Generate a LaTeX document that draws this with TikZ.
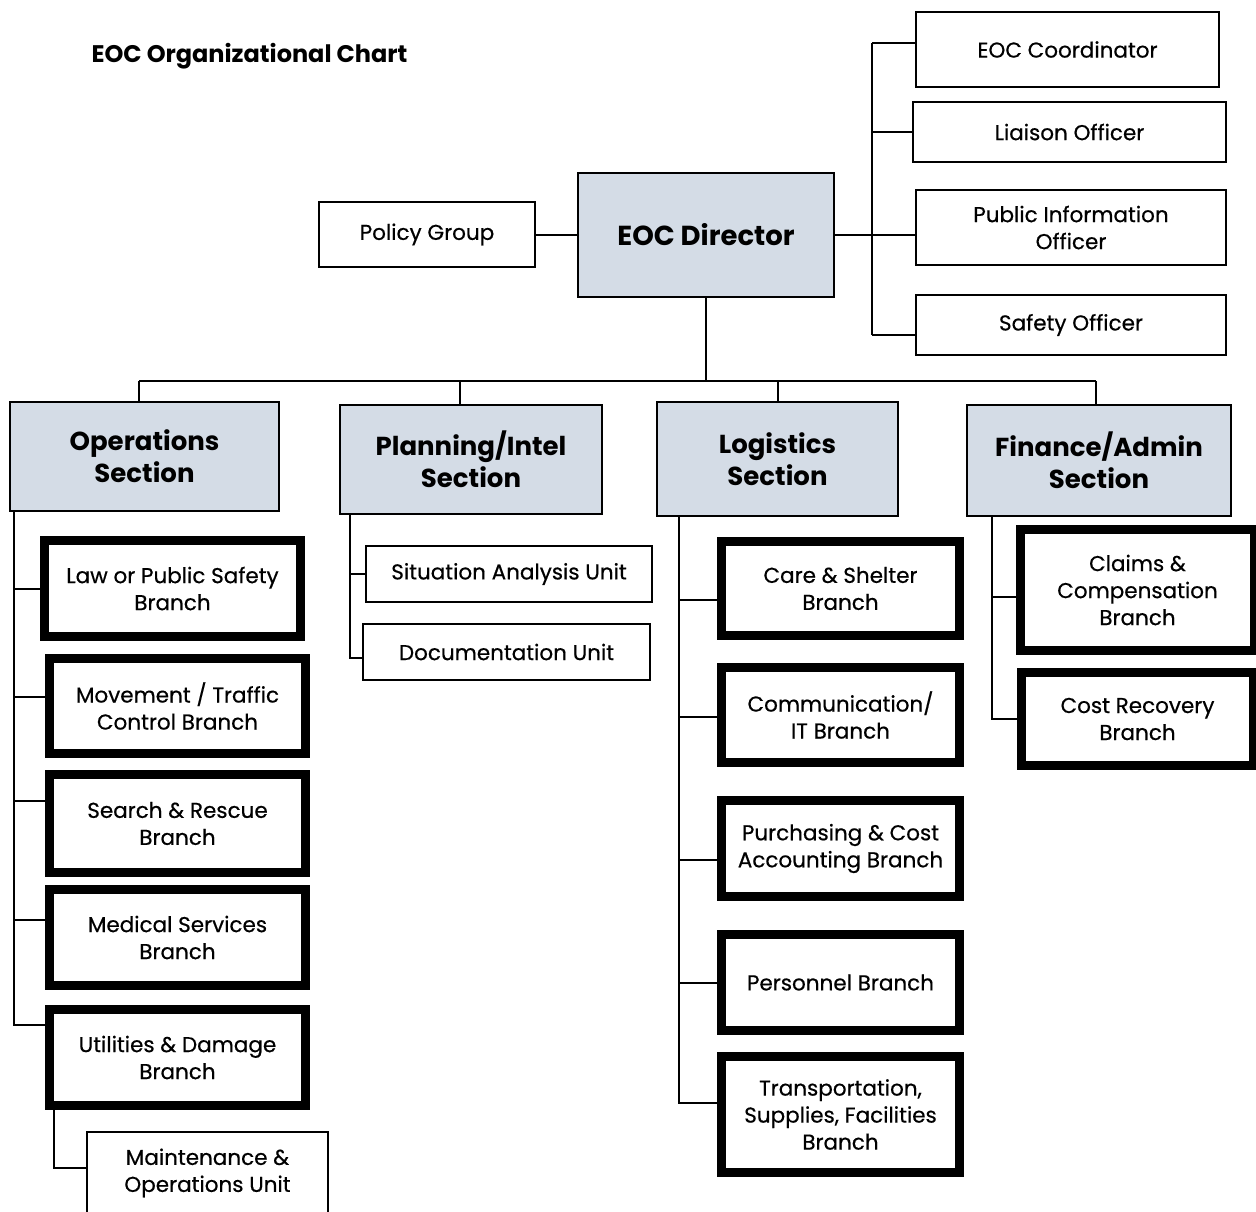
\documentclass[tikz,border=0pt]{standalone}
\usepackage{fontspec}
\setmainfont{Poppins}
\newfontfamily\chartfont{Poppins}[FakeBold=0.5]
\usetikzlibrary{positioning}
\definecolor{secfill}{RGB}{212,220,230}

\begin{document}
\begin{tikzpicture}[x=1pt,y=-1pt]
		\tikzstyle{unitbox} = [rectangle, draw=black, line width=2pt, fill=white,
		text centered, align=center, inner sep=0pt, font=\chartfont\fontsize{21.5}{27}\selectfont]
		\tikzstyle{branchbox} = [unitbox, line width=9pt]
		\tikzstyle{sectionbox} = [unitbox, fill=secfill, font=\bfseries\fontsize{26}{32}\selectfont]
		\tikzstyle{link} = [line width=2pt]
		\useasboundingbox (0,0) rectangle (1256,1211);
		\node (title) [anchor=west, font=\bfseries\fontsize{24}{28}\selectfont] at (88,56) {EOC Organizational Chart};
		% top level
		\node (director) [sectionbox, minimum width=256, minimum height=124, font=\bfseries\fontsize{27.5}{32}\selectfont] at (706,235) {EOC Director};
		\node (policy) [unitbox, minimum width=216, minimum height=65] at (427,234.5) {Policy Group};
		\node (coordinator) [unitbox, minimum width=303, minimum height=75] at (1067.5,49.5) {EOC Coordinator};
		\node (liaison) [unitbox, minimum width=313, minimum height=60] at (1069.5,132) {Liaison Officer};
		\node (pio) [unitbox, minimum width=310, minimum height=75] at (1071,227.5) {Public Information\\Officer};
		\node (safety) [unitbox, minimum width=310, minimum height=60] at (1071,325) {Safety Officer};
		% sections
		\node (ops) [sectionbox, minimum width=269, minimum height=109] at (144.5,456.5) {Operations\\Section};
		\node (plan) [sectionbox, minimum width=262, minimum height=109] at (471,459.5) {Planning/Intel\\Section};
		\node (logi) [sectionbox, minimum width=241, minimum height=114] at (777.5,459) {Logistics\\Section};
		\node (fin) [sectionbox, minimum width=264, minimum height=111] at (1099,460.5) {Finance/Admin\\Section};
		% operations branches
		\node (lawBranch) [branchbox, minimum width=256, minimum height=96] at (172.5,588.5) {Law or Public Safety\\Branch};
		\node (trafficBranch) [branchbox, minimum width=256, minimum height=95] at (177.5,706) {Movement / Traffic\\Control Branch};
		\node (rescueBranch) [branchbox, minimum width=256, minimum height=98] at (177.5,823.5) {Search \& Rescue\\Branch};
		\node (medicalBranch) [branchbox, minimum width=256, minimum height=96] at (177.5,937.5) {Medical Services\\Branch};
		\node (utilBranch) [branchbox, minimum width=256, minimum height=96] at (177.5,1057.5) {Utilities \& Damage\\Branch};
		\node (maintUnit) [unitbox, minimum width=241, minimum height=82] at (207.5,1173) {Maintenance \&\\Operations Unit};
		% planning units
		\node (situUnit) [unitbox, minimum width=286, minimum height=56] at (509,574) {Situation Analysis Unit};
		\node (docUnit) [unitbox, minimum width=287, minimum height=56] at (506.5,652) {Documentation Unit};
		% logistics branches
		\node (shelterBranch) [branchbox, minimum width=238, minimum height=94] at (840.5,588.5) {Care \& Shelter\\Branch};
		\node (commBranch) [branchbox, minimum width=238, minimum height=95] at (840.5,715) {Communication/\\IT Branch};
		\node (purchBranch) [branchbox, minimum width=238, minimum height=96] at (840.5,848.5) {Purchasing \& Cost\\Accounting Branch};
		\node (persBranch) [branchbox, minimum width=238, minimum height=96] at (840.5,982.5) {Personnel Branch};
		\node (transBranch) [branchbox, minimum width=238, minimum height=116] at (840.5,1114.5) {Transportation,\\Supplies, Facilities\\Branch};
		% finance branches
		\node (claimsBranch) [branchbox, minimum width=234, minimum height=121] at (1137.5,590) {Claims \&\\Compensation\\Branch};
		\node (costBranch) [branchbox, minimum width=232, minimum height=93] at (1137.5,719) {Cost Recovery\\Branch};
		% staff links
		\coordinate (staffTop) at (872,43);
		\coordinate (staffBot) at (872,335);
		\draw [link] (policy.east) -- (policy.east -| director.west);
		\draw [link] (staffTop) -- (staffBot);
		\draw [link] (staffTop) -- (staffTop -| coordinator.west);
		\draw [link] (liaison.west -| staffTop) -- (liaison.west);
		\draw [link] (director.east) -- (director.east -| pio.west);
		\draw [link] (staffBot) -- (staffBot -| safety.west);
		% section bus
		\coordinate (busL) at (139,381);
		\coordinate (busR) at (1096,381);
		\draw [link] (director.south) -- (director.south |- busL);
		\draw [link] (busL) -- (busR);
		\draw [link] (busL) -- (busL |- ops.north);
		\draw [link] ([xshift=-11pt]plan.north) -- ([xshift=-11pt]plan.north |- busL);
		\draw [link] (logi.north) -- (logi.north |- busL);
		\draw [link] (busR) -- (busR |- fin.north);
		% operations
		\coordinate (opsSpine) at ([xshift=5pt]ops.south west);
		\draw [link] (opsSpine) |- ([yshift=33pt]utilBranch.west);
		\draw [link] (opsSpine |- lawBranch.west) -- (lawBranch.west);
		\draw [link] ([yshift=9pt]opsSpine |- trafficBranch.west) -- ([yshift=9pt]trafficBranch.west);
		\draw [link] ([yshift=23pt]opsSpine |- rescueBranch.west) -- ([yshift=23pt]rescueBranch.west);
		\draw [link] ([yshift=18pt]opsSpine |- medicalBranch.west) -- ([yshift=18pt]medicalBranch.west);
		\draw [link] ([xshift=8.5pt]utilBranch.south west) |- ([yshift=5pt]maintUnit.west);
		% planning
		\coordinate (planSpine) at ([xshift=11pt]plan.south west);
		\draw [link] (planSpine) |- ([yshift=-6pt]docUnit.west);
		\draw [link] (planSpine |- situUnit.west) -- (situUnit.west);
		% logistics
		\coordinate (logSpine) at ([xshift=23pt]logi.south west);
		\draw [link] (logSpine) |- ([yshift=12pt]transBranch.west);
		\draw [link] ([yshift=-11pt]logSpine |- shelterBranch.west) -- ([yshift=-11pt]shelterBranch.west);
		\draw [link] ([yshift=-2pt]logSpine |- commBranch.west) -- ([yshift=-2pt]commBranch.west);
		\draw [link] ([yshift=-11pt]logSpine |- purchBranch.west) -- ([yshift=-11pt]purchBranch.west);
		\draw [link] (logSpine |- persBranch.west) -- (persBranch.west);
		% finance
		\coordinate (finSpine) at ([xshift=26pt]fin.south west);
		\draw [link] (finSpine) |- (costBranch.west);
		\draw [link] ([yshift=-7pt]finSpine |- claimsBranch.west) -- ([yshift=-7pt]claimsBranch.west);
\end{tikzpicture}
\end{document}
